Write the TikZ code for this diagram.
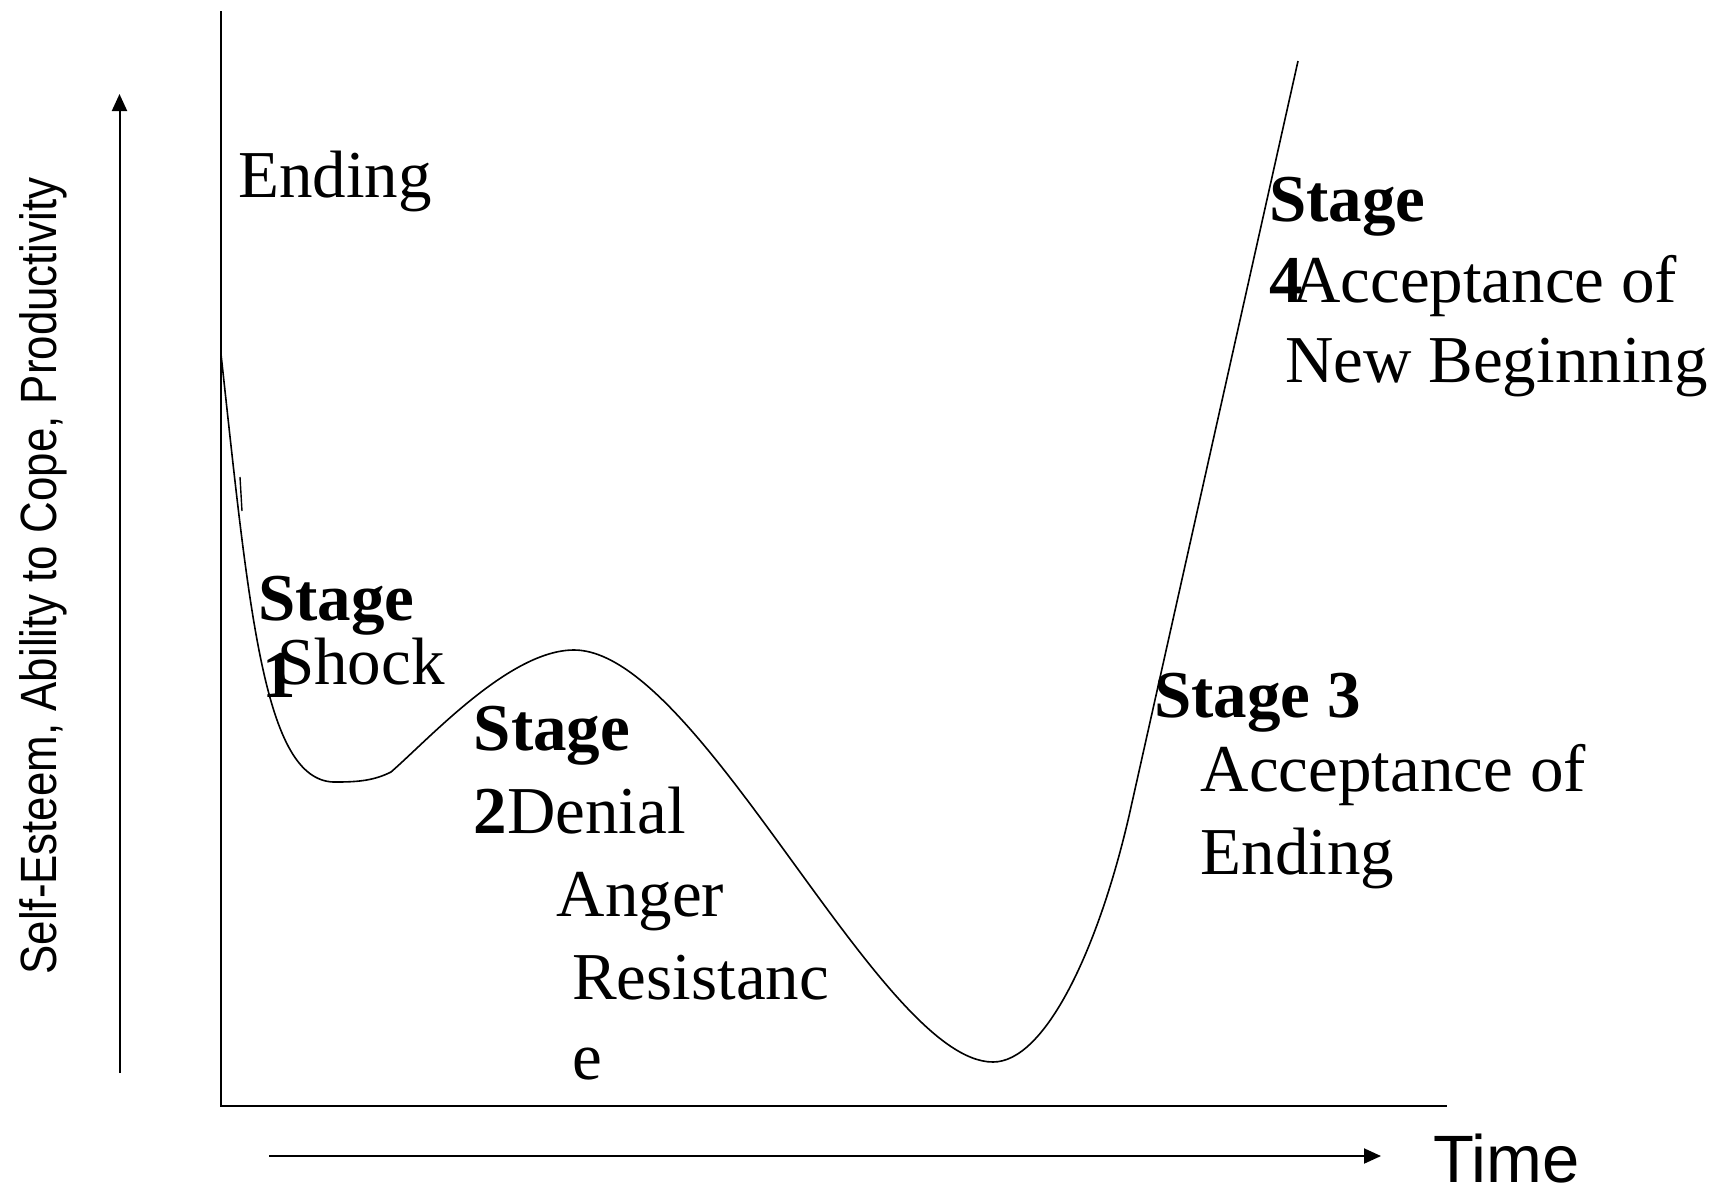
\documentclass[tikz,border=0pt]{standalone}
\usepackage{fontspec}
\setmainfont{Liberation Serif}
\newfontfamily\axisfont{Liberation Sans}
\usetikzlibrary{arrows.meta}
\begin{document}
\begin{tikzpicture}[x=1pt,y=-1pt,
  lbl/.style={anchor=base west,inner sep=0pt,font=\fontsize{67}{82}\selectfont},
  blbl/.style={lbl,font=\fontsize{67}{82}\selectfont\bfseries},
  frame/.style={line width=2pt},
  axisarrow/.style={line width=2pt,-{Triangle[length=17pt,width=15pt]}},
  curve/.style={line width=1.6pt}]
\useasboundingbox[fill=white] (0,0) rectangle (1735,1195);

% chart frame
\coordinate (top) at (221,11);
\coordinate (origin) at (221,1106);
\coordinate (right) at (1447,1106);
\draw[frame] (top) -- (origin) -- (right);

% axis direction arrows
\coordinate (ys) at (119.5,1073);
\coordinate (ye) at (119.5,94);
\draw[axisarrow] (ys) -- (ye);
\coordinate (xs) at (269,1156);
\coordinate (xe) at (1381,1156);
\draw[axisarrow] (xs) -- (xe);

% axis captions
\node[rotate=90,inner sep=0pt] (ylab) at (43,576)
  {\axisfont\fontsize{51}{55}\selectfont\scalebox{0.86}[1]{Self-Esteem, Ability to Cope, Productivity}};
\node[anchor=base west,inner sep=0pt,font=\axisfont\fontsize{67}{80}\selectfont] (time) at (1433,1182) {Time};

% the transition curve
\coordinate (c0) at (221,354);
\coordinate (low1) at (337,782);
\coordinate (kink) at (391,772);
\coordinate (hump) at (574,650);
\coordinate (low2) at (993,1062);
\coordinate (rise) at (1129,816);
\coordinate (c1) at (1298,61);
\draw[curve] (c0) .. controls (250,620) and (265,785) .. (low1)
  .. controls (360,782) and (375,780) .. (kink)
  .. controls (430,738) and (510,650) .. (hump)
  .. controls (700,650) and (880,1062) .. (low2)
  .. controls (1045,1062) and (1098,950) .. (rise)
  -- (c1);
\coordinate (tickA) at (240,477);
\coordinate (tickB) at (242,511);
\draw[line width=1.4pt] (tickA) -- (tickB);

% labels
\node[lbl] (ending) at (238,197) {Ending};

\node[blbl] (s1) at (258,620) {Stage};
\node[blbl] (s1n) at (262,697) {1};
\node[lbl] (shock) at (277,684) {Shock};

\node[blbl] (s2) at (473.6,750) {Stage};
\node[blbl] (s2n) at (473.6,833) {2};
\node[lbl] (denial) at (507,833) {Denial};
\node[lbl] (anger) at (556.6,916) {Anger};
\node[lbl] (resist) at (572,999) {Resistanc};
\node[lbl] (resiste) at (572,1079) {e};

\node[blbl] (s3) at (1154,717) {Stage 3};
\node[lbl] (acc1) at (1200.6,791) {Acceptance of};
\node[lbl] (acc1b) at (1200.6,874) {Ending};

\node[blbl] (s4) at (1269,221) {Stage};
\node[blbl] (s4n) at (1269,302) {4};
\node[lbl] (acc2) at (1292,302) {Acceptance of};
\node[lbl] (acc2b) at (1285,382) {New Beginning};
\end{tikzpicture}
\end{document}
